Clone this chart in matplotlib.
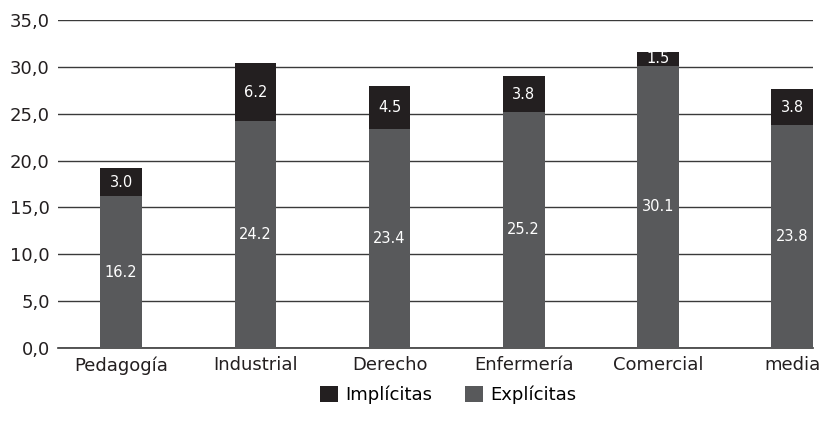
import matplotlib.pyplot as plt
from matplotlib.ticker import FuncFormatter

# datos
carreras = ['Pedagogía', 'Industrial', 'Derecho', 'Enfermería', 'Comercial', 'media']
explicitas = [16.2, 24.2, 23.4, 25.2, 30.1, 23.8]
implicitas = [3.0, 6.2, 4.5, 3.8, 1.5, 3.8]

col_exp = '#58595b'
col_imp = '#231f20'

plt.rcParams['font.family'] = ['DejaVu Sans']

fig = plt.figure(figsize=(8.22, 4.33), dpi=100)
ax = fig.add_axes([0.0706, 0.196, 0.9184, 0.758])
ax.set_axisbelow(True)

x = range(len(carreras))
ancho = 0.31
b1 = ax.bar(x, explicitas, ancho, color=col_exp, label='Explícitas', zorder=3)
b2 = ax.bar(x, implicitas, ancho, bottom=explicitas, color=col_imp, label='Implícitas', zorder=3)

ax.bar_label(b1, labels=[f'{v:.1f}' for v in explicitas], label_type='center',
             color='white', fontsize=10.5, zorder=4)
ax.bar_label(b2, labels=[f'{v:.1f}' for v in implicitas], label_type='center',
             color='white', fontsize=10.5, zorder=4)

ax.set_ylim(0, 35)
ax.set_xlim(-0.47, 5 + ancho / 2)
ax.set_yticks(range(0, 36, 5))
ax.yaxis.set_major_formatter(FuncFormatter(lambda v, p: f'{v:.1f}'.replace('.', ',')))
ax.set_xticks(list(x))
ax.set_xticklabels(carreras)
ax.tick_params(axis='both', length=0, labelsize=13, colors='#231f20')
ax.tick_params(axis='y', pad=6)
ax.tick_params(axis='x', pad=6)

ax.grid(axis='y', color='#3a3a3a', linewidth=1.0, zorder=0)
ax.axhline(0, color='#3a3a3a', linewidth=1.2, clip_on=False, zorder=2)
for s in ax.spines.values():
    s.set_visible(False)

# leyenda abajo, primero Implícitas
h, l = ax.get_legend_handles_labels()
fig.legend(h[::-1], l[::-1], loc='center', bbox_to_anchor=(0.545, 0.088), ncol=2,
           frameon=False, fontsize=13, handlelength=1.0, handleheight=1.0,
           handletextpad=0.4, columnspacing=1.8)

fig.savefig('out.png', dpi=100)
